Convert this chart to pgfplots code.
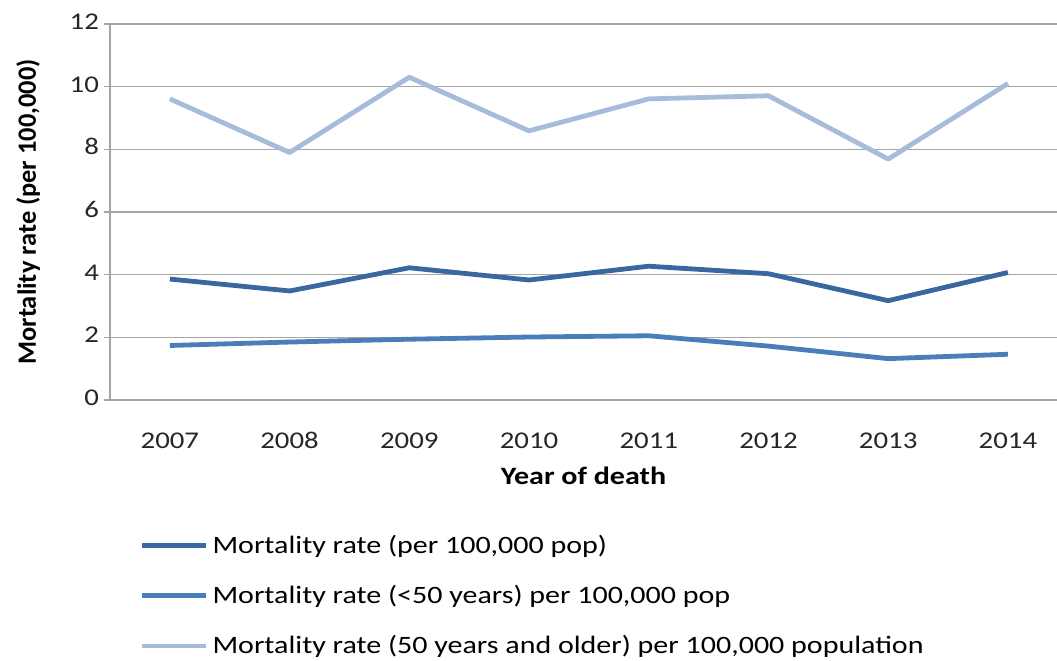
\documentclass[border=0pt]{standalone}
\usepackage{pgfplots}
\pgfplotsset{compat=1.18}
\usepackage{fontspec}
\setmainfont{Carlito}[FakeStretch=1.2]
\newfontfamily\plainfont{Carlito}
\definecolor{sdark}{HTML}{3B67A0}
\definecolor{smid}{HTML}{4A7EBB}
\definecolor{slight}{HTML}{A7BCDA}
\definecolor{gridg}{HTML}{A6A6A6}
\begin{document}
\begin{tikzpicture}[x=1pt,y=1pt]
\useasboundingbox (0,0) rectangle (528.5,330);
\begin{axis}[
  at={(55pt,130pt)}, anchor=south west,
  scale only axis, width=473.5pt, height=188pt,
  xmin=-0.5, xmax=7.41, ymin=0, ymax=12,
  xtick={0,...,7},
  xticklabels={2007,2008,2009,2010,2011,2012,2013,2014},
  ytick={0,2,...,12},
  axis x line*=bottom, axis y line*=left,
  axis line style={gridg, line width=0.6pt, -},
  ymajorgrids, grid style={gridg, line width=0.6pt},
  major tick length=3pt,
  xtick style={draw=none},
  ytick style={gridg, line width=0.6pt},
  tick align=outside,
  /pgf/number format/assume math mode=true,
  typeset ticklabels with strut,
  tick label style={font=\fontsize{12}{14}\selectfont, text=black!85},
  xticklabel style={yshift=-8pt},
  yticklabel style={xshift=1pt},
  xlabel={\textbf{Year of death}},
  ylabel={\plainfont\bfseries Mortality rate (per 100,000)},
  label style={font=\fontsize{12.5}{14}\selectfont},
  xlabel style={yshift=2pt},
  ylabel style={font=\fontsize{13.2}{15}\selectfont, yshift=8pt},
  clip=false,
  legend style={at={(0.031,-0.347)}, anchor=north west, draw=none, fill=none,
    font=\fontsize{12.5}{14}\selectfont, row sep=10.5pt, inner sep=0pt,
    cells={anchor=west}},
  legend cell align=left,
  legend image code/.code={\draw[#1] (0pt,0pt) -- (32pt,0pt);},
]
\addplot[sdark, line width=2.4pt, line join=round] coordinates {
(0,3.86) (1,3.48) (2,4.22) (3,3.83) (4,4.27) (5,4.03) (6,3.17) (7,4.07)};
\addlegendentry{Mortality rate (per 100,000 pop)}
\addplot[smid, line width=2.4pt, line join=round] coordinates {
(0,1.74) (1,1.85) (2,1.94) (3,2.01) (4,2.05) (5,1.72) (6,1.32) (7,1.46)};
\addlegendentry{Mortality rate (<50 years) per 100,000 pop}
\addplot[slight, line width=2.4pt, line join=round] coordinates {
(0,9.61) (1,7.90) (2,10.30) (3,8.59) (4,9.61) (5,9.71) (6,7.69) (7,10.10)};
\addlegendentry{Mortality rate (50 years and older) per 100,000 population}
\end{axis}
\end{tikzpicture}
\end{document}
